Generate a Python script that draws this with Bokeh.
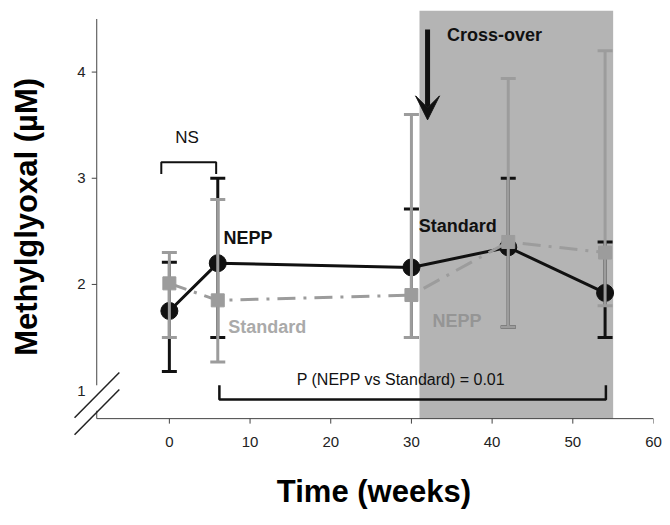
from bokeh.plotting import figure
from bokeh.models import Range1d, Arrow, VeeHead, Label, FixedTicker, BoxAnnotation
from bokeh.embed import file_html
from bokeh.resources import INLINE

# ---- data ----
weeks = [0, 6, 30, 42, 54]
nepp_mean = [1.75, 2.2, 2.16, 2.35, 1.92]
nepp_upper = [2.21, 3.0, 2.71, 3.0, 2.4]
nepp_lower = [1.18, 1.5, 1.5, 1.6, 1.5]
std_mean = [2.01, 1.85, 1.9, 2.4, 2.3]
std_upper = [2.3, 2.8, 3.6, 3.94, 4.2]
std_lower = [1.5, 1.27, 1.5, 1.6, 1.8]
crossover_start, crossover_end = 31, 55
x_ticks = [0, 10, 20, 30, 40, 50, 60]
y_ticks = [1, 2, 3, 4]

# axis geometry (data units)
X_AXIS_Y = 0.736      # where the x axis crosses
Y_AXIS_X = -9.0       # where the y axis sits
Y_AXIS_TOP = 4.5
X_AXIS_END = 60
BREAK_LO, BREAK_HI = 0.81, 1.05   # gap in y axis at the break marks

BLACK = "#111111"
GREY = "#9c9c9c"
AXIS = "#444444"
FONT = "Liberation Sans"
NBSP = "\u00a0"

p = figure(width=670, height=525, x_range=Range1d(-12.5, 60), y_range=Range1d(0.53, 4.58),
           output_backend="svg", toolbar_location=None,
           min_border_left=68, min_border_right=17, min_border_top=10, min_border_bottom=85)
p.grid.visible = False
p.outline_line_color = None
p.background_fill_color = "white"

p.xaxis.ticker = FixedTicker(ticks=x_ticks)
p.yaxis.ticker = FixedTicker(ticks=y_ticks)
for ax in (p.xaxis[0], p.yaxis[0]):
    ax.minor_tick_line_color = None
    ax.major_tick_line_color = None
    ax.major_tick_in = 0
    ax.major_tick_out = 0
    ax.axis_line_color = None
    ax.major_label_text_font = FONT
    ax.major_label_text_font_size = "15px"
    ax.major_label_text_color = "#222222"
    ax.axis_label_text_font = FONT
    ax.axis_label_text_font_style = "bold"
    ax.axis_label_text_color = "#000000"
# non-breaking spaces keep the titles centred on the drawn axes (frame is wider)
p.xaxis.axis_label = NBSP * 3 + "Time (weeks)"
p.xaxis.axis_label_text_font_size = "31px"
p.xaxis.major_label_standoff = -4
p.xaxis.axis_label_standoff = 24
p.yaxis.axis_label = NBSP * 2 + "Methylglyoxal (\u00b5M)"
p.yaxis.axis_label_text_font_size = "31px"
p.yaxis.major_label_standoff = -17
p.yaxis.axis_label_standoff = 30

# cross-over shaded period
p.add_layout(BoxAnnotation(left=crossover_start, right=crossover_end, bottom=X_AXIS_Y,
                           fill_color="#b4b4b4", fill_alpha=1.0, line_color=None,
                           level="underlay"))

# drawn axis lines and tick marks
tick_dx = 5 / 8.07
tick_dy = 5 / 106.2
p.line([Y_AXIS_X, X_AXIS_END], [X_AXIS_Y, X_AXIS_Y], line_color=AXIS, line_width=1)
p.segment(x0=x_ticks, y0=[X_AXIS_Y] * len(x_ticks), x1=x_ticks,
          y1=[X_AXIS_Y - tick_dy] * len(x_ticks), line_color=AXIS, line_width=1)
p.line([Y_AXIS_X, Y_AXIS_X], [X_AXIS_Y, BREAK_LO], line_color=AXIS, line_width=1)
p.line([Y_AXIS_X, Y_AXIS_X], [BREAK_HI, Y_AXIS_TOP], line_color=AXIS, line_width=1)
yt_marks = [t for t in y_ticks if not (BREAK_LO <= t <= BREAK_HI)]
p.segment(x0=[Y_AXIS_X] * len(yt_marks), y0=yt_marks, x1=[Y_AXIS_X - tick_dx] * len(yt_marks),
          y1=yt_marks, line_color=AXIS, line_width=1)
# axis break marks //
p.segment(x0=[-11.75, -11.75], y0=[0.745, 0.585], x1=[-6.2, -6.2], y1=[1.17, 1.01],
          line_color="#222222", line_width=1.5)

# NEPP error bars
p.segment(x0=weeks, y0=nepp_lower, x1=weeks, y1=nepp_upper, line_color=BLACK, line_width=3)
p.scatter(weeks, nepp_upper, marker="dash", size=15, line_color=BLACK, line_width=3)
p.scatter(weeks, nepp_lower, marker="dash", size=15, line_color=BLACK, line_width=3)
# NEPP line + points
p.line(weeks, nepp_mean, line_color=BLACK, line_width=3)
p.scatter(weeks, nepp_mean, marker="circle", size=17, fill_color=BLACK, line_color=BLACK)

# Standard line
p.line(weeks, std_mean, line_color=GREY, line_width=3, line_dash="18 8 3 8")
# Standard error bars
p.segment(x0=weeks, y0=std_lower, x1=weeks, y1=std_upper, line_color=GREY, line_width=3)
p.scatter(weeks, std_upper, marker="dash", size=15, line_color=GREY, line_width=3)
p.scatter(weeks, std_lower, marker="dash", size=15, line_color=GREY, line_width=3)
p.scatter(weeks, std_mean, marker="square", size=13, fill_color=GREY, line_color=GREY)

# NS bracket
p.line([-1, -1, 5.8, 5.8], [3.04, 3.15, 3.15, 3.04], line_color=BLACK, line_width=2)
p.add_layout(Label(x=2.2, y=3.38, text="NS", text_font=FONT, text_font_size="17px",
                   text_align="center", text_baseline="middle", text_color=BLACK))
# P bracket
p.line([6.2, 6.2, 54.1, 54.1], [1.05, 0.915, 0.915, 1.05], line_color=BLACK, line_width=2.5)
p.add_layout(Label(x=28.7, y=1.1, text="P (NEPP vs Standard) = 0.01", text_font=FONT,
                   text_font_size="16px", text_align="center", text_baseline="middle",
                   text_color=BLACK))

# cross-over arrow
p.add_layout(Arrow(x_start=32.0, y_start=4.4, x_end=32.0, y_end=3.55,
                   end=VeeHead(size=24, fill_color=BLACK, line_color=BLACK),
                   line_color=BLACK, line_width=5))
p.add_layout(Label(x=34.4, y=4.35, text="Cross-over", text_font=FONT, text_font_size="18px",
                   text_font_style="bold", text_align="left", text_baseline="middle",
                   text_color=BLACK))

# series labels
p.add_layout(Label(x=6.7, y=2.44, text="NEPP", text_font=FONT, text_font_size="18px",
                   text_font_style="bold", text_align="left", text_baseline="middle",
                   text_color=BLACK))
p.add_layout(Label(x=7.3, y=1.6, text="Standard", text_font=FONT, text_font_size="18px",
                   text_font_style="bold", text_align="left", text_baseline="middle",
                   text_color="#aaaaaa"))
p.add_layout(Label(x=30.9, y=2.55, text="Standard", text_font=FONT, text_font_size="18px",
                   text_font_style="bold", text_align="left", text_baseline="middle",
                   text_color=BLACK))
p.add_layout(Label(x=32.6, y=1.66, text="NEPP", text_font=FONT, text_font_size="18px",
                   text_font_style="bold", text_align="left", text_baseline="middle",
                   text_color="#959595"))

open("out.html", "w").write(file_html(p, INLINE))
